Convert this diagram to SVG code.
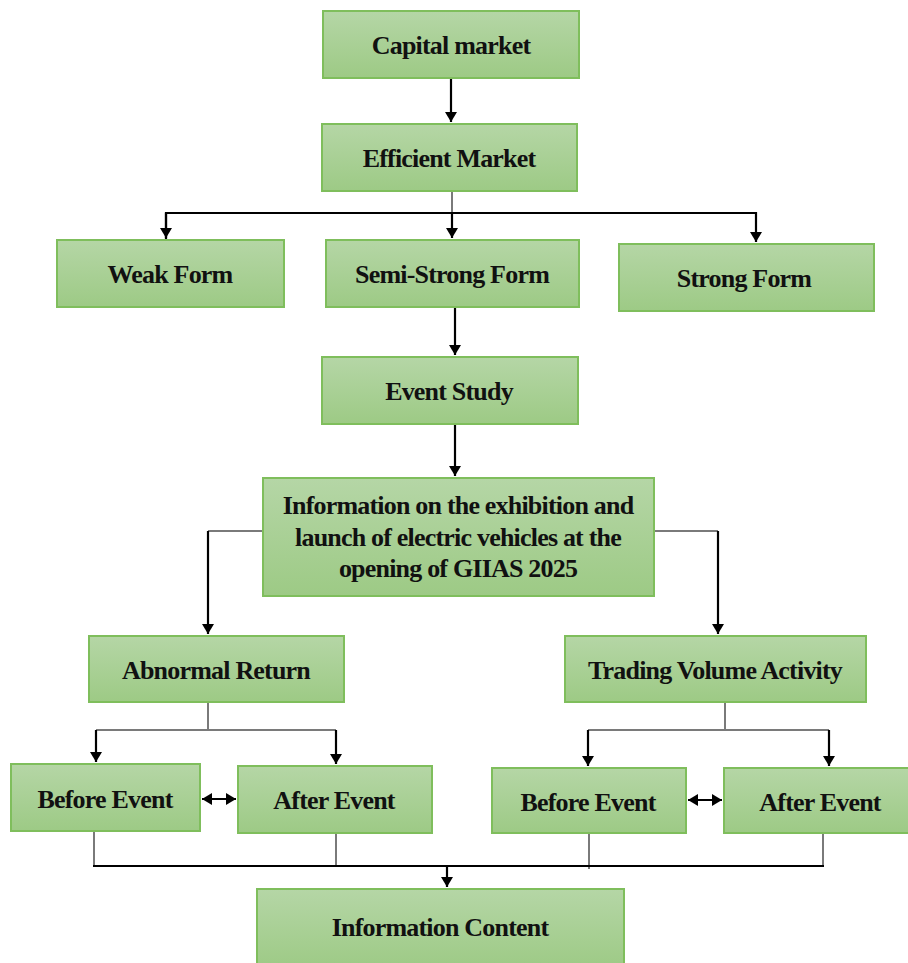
<svg xmlns="http://www.w3.org/2000/svg" width="908" height="963" viewBox="0 0 908 963">
<defs>
<linearGradient id="g" x1="0" y1="0" x2="0" y2="1">
<stop offset="0" stop-color="#b5d6a6"/>
<stop offset="1" stop-color="#9dca85"/>
</linearGradient>
<marker id="ah" viewBox="0 0 10 12" refX="10" refY="6" markerWidth="10" markerHeight="12" markerUnits="userSpaceOnUse" orient="auto-start-reverse">
<path d="M0,0 L10,6 L0,12 Z" fill="#000"/>
</marker>
</defs>
<style>
.box{fill:url(#g);stroke:#7fbe5c;stroke-width:2}
.t{font-family:"Liberation Serif","Times New Roman",serif;font-weight:bold;font-size:26px;fill:#111;text-anchor:middle;letter-spacing:-0.8px}
.a{fill:none;stroke:#000;stroke-width:2.2}
.s{fill:none;stroke:#7a7a7a;stroke-width:2}
</style>
<g id="connectors">
<path class="a" d="M451,78 V122" marker-end="url(#ah)"/>
<path class="s" d="M452,191 V213"/>
<path class="a" d="M166,240 V213 H756 V242" marker-end="url(#ah)"/>
<path class="a" d="M166,213 V238" marker-end="url(#ah)"/>
<path class="a" d="M452,213 V238" marker-end="url(#ah)"/>
<path class="a" d="M455,307 V355" marker-end="url(#ah)"/>
<path class="a" d="M455,424 V476" marker-end="url(#ah)"/>
<path class="s" d="M263,531 H208"/>
<path class="a" d="M208,531 V634" marker-end="url(#ah)"/>
<path class="s" d="M654,531 H718"/>
<path class="a" d="M718,531 V634" marker-end="url(#ah)"/>
<path class="s" d="M208,702 V730 M96,730 H336"/>
<path class="a" d="M96,730 V762" marker-end="url(#ah)"/>
<path class="a" d="M336,730 V764" marker-end="url(#ah)"/>
<path class="s" d="M725,702 V730 M588,730 H829"/>
<path class="a" d="M588,730 V766" marker-end="url(#ah)"/>
<path class="a" d="M829,730 V766" marker-end="url(#ah)"/>
<path class="a" d="M202,799 H236" marker-start="url(#ah)" marker-end="url(#ah)"/>
<path class="a" d="M688,800 H722" marker-start="url(#ah)" marker-end="url(#ah)"/>
<path class="s" d="M94,831 V866 M336,833 V866 M589,833 V869 M823,833 V866"/>
<path class="a" d="M93,866 H824"/>
<path class="a" d="M447,866 V887" marker-end="url(#ah)"/>
</g>
<g id="capital"><rect class="box" x="323" y="11" width="256" height="67"/><text class="t" x="451" y="54">Capital market</text></g>
<g id="efficient"><rect class="box" x="322" y="124" width="255" height="67"/><text class="t" x="449" y="167">Efficient Market</text></g>
<g id="weak"><rect class="box" x="57" y="240" width="227" height="67"/><text class="t" x="170" y="283">Weak Form</text></g>
<g id="semi"><rect class="box" x="326" y="240" width="253" height="67"/><text class="t" x="452" y="283">Semi-Strong Form</text></g>
<g id="strong"><rect class="box" x="619" y="244" width="255" height="67"/><text class="t" x="744" y="287">Strong Form</text></g>
<g id="event"><rect class="box" x="322" y="357" width="256" height="67"/><text class="t" x="449" y="400">Event Study</text></g>
<g id="info"><rect class="box" x="263" y="478" width="391" height="118"/>
<text class="t" x="458" y="514">Information on the exhibition and</text>
<text class="t" x="458" y="546">launch of electric vehicles at the</text>
<text class="t" x="458" y="577">opening of GIIAS 2025</text></g>
<g id="abnormal"><rect class="box" x="89" y="636" width="255" height="66"/><text class="t" x="216" y="679">Abnormal Return</text></g>
<g id="tva"><rect class="box" x="565" y="636" width="301" height="66"/><text class="t" x="715" y="679">Trading Volume Activity</text></g>
<g id="before1"><rect class="box" x="11" y="764" width="189" height="67"/><text class="t" x="105" y="808">Before Event</text></g>
<g id="after1"><rect class="box" x="238" y="766" width="194" height="67"/><text class="t" x="334" y="809">After Event</text></g>
<g id="before2"><rect class="box" x="492" y="768" width="194" height="65"/><text class="t" x="588" y="811">Before Event</text></g>
<g id="after2"><rect class="box" x="724" y="768" width="192" height="65"/><text class="t" x="820" y="811">After Event</text></g>
<g id="content"><rect class="box" x="257" y="889" width="367" height="80"/><text class="t" x="440" y="936">Information Content</text></g>
</svg>
